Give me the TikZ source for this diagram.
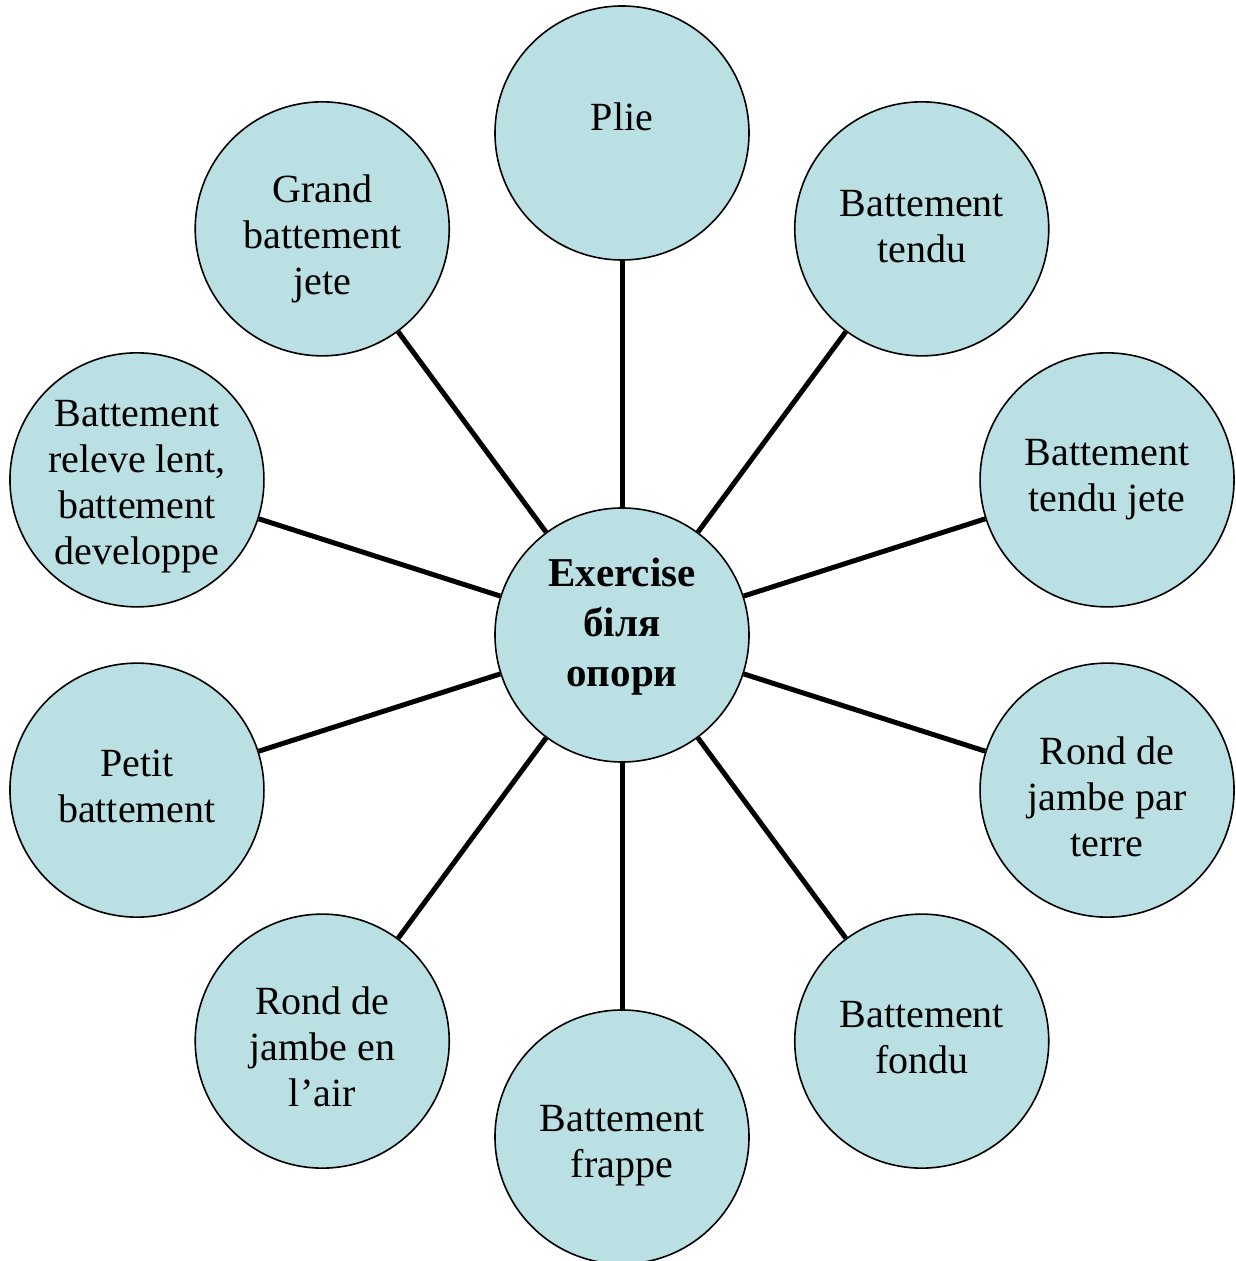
\documentclass[tikz,border=0pt]{standalone}
\usepackage{fontspec}
\setmainfont{Liberation Serif}
\usetikzlibrary{positioning}
\definecolor{PaleTeal}{RGB}{186,224,227}

\begin{document}
\begin{tikzpicture}[x=0.5pt,y=0.5pt,
  bubble/.style={circle, draw=black, line width=0.8pt, fill=PaleTeal, minimum size=127pt, inner sep=0pt},
  caption/.style={align=center, font=\fontsize{20}{23}\selectfont, inner sep=0pt},
  spoke/.style={line width=2.5pt}]
  \useasboundingbox (-622,-626) rectangle (613,635);

  % Hub
  \node[bubble] (hub) at (0,0) {};
  \node[caption, font=\fontsize{20.5}{25}\selectfont\bfseries, yshift=4pt] (hub-t) at (hub) {Exercise\\біля\\опори};

  % Ring of exercises
  \foreach \a/\n/\s/\t in {90/plie/8/{Plie},
      54/tendu/1/{Battement\\tendu},
      18/tendujete/0/{Battement\\tendu jete},
      -18/parterre/-3.5/{Rond de\\jambe par\\terre},
      -54/fondu/2/{Battement\\fondu},
      -90/frappe/-4.5/{Battement\\frappe},
      -126/enlair/-3/{Rond de\\jambe en\\l’air},
      -162/petit/2/{Petit\\battement},
      162/releve/-3.5/{Battement\\releve lent,\\battement\\developpe},
      126/grand/-5/{Grand\\battement\\jete}}{
    \node[bubble] (\n) at (\a:510 and 502) {};
    \node[caption, yshift=\s pt] (\n-t) at (\n) {\t};
    \draw[spoke] (hub) -- (\n);
  }
\end{tikzpicture}
\end{document}
